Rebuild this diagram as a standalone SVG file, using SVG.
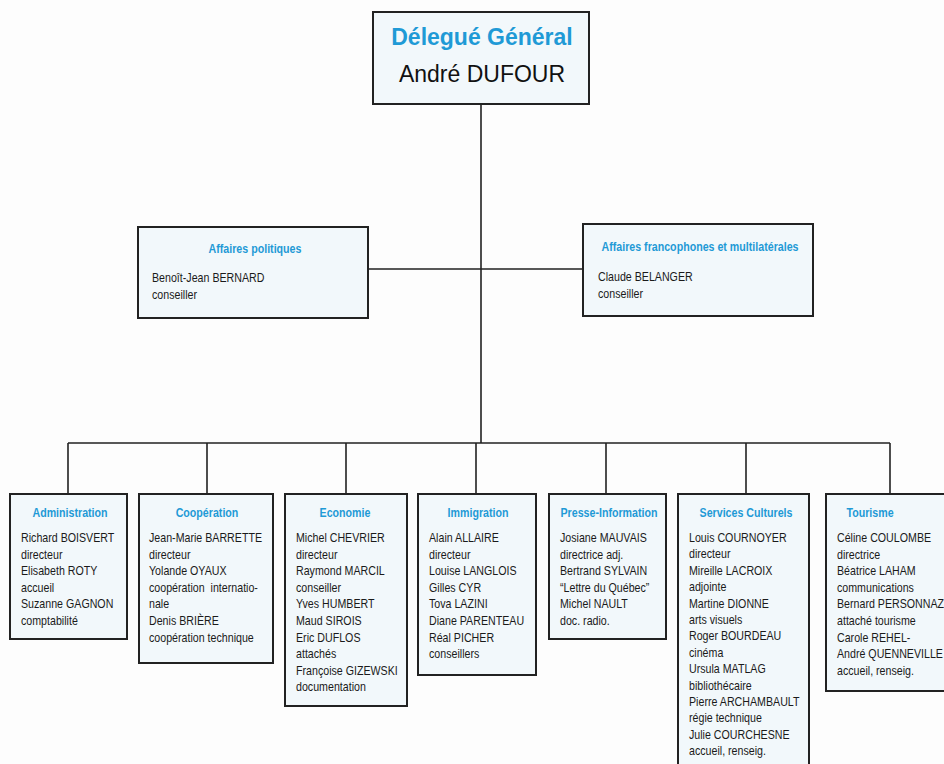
<svg xmlns="http://www.w3.org/2000/svg" width="944" height="764" viewBox="0 0 944 764">
<style>
.box{fill:#f2f8fb;stroke:#222;stroke-width:2}
.conn{fill:none;stroke:#222;stroke-width:1.6}
.t{font-family:"Liberation Sans",Arial,sans-serif;font-size:13px;fill:#1a1a1a}
.h{font-family:"Liberation Sans",Arial,sans-serif;font-size:13px;font-weight:bold;fill:#1f9ad6;text-anchor:middle}
.bigh{font-family:"Liberation Sans",Arial,sans-serif;font-size:23px;font-weight:bold;fill:#1f9ad6;text-anchor:middle}
.bign{font-family:"Liberation Sans",Arial,sans-serif;font-size:23px;fill:#111;text-anchor:middle}
</style>
<rect width="944" height="764" fill="#fdfdfd"/>
<g id="connectors">
<path class="conn" d="M481,104V443M368,269H583M68,443H890M68,443V494M207,443V494M346,443V494M476,443V494M606,443V494M746,443V494M890,443V494"/>
</g>
<g id="delegue">
<rect class="box" x="373" y="12" width="216" height="92"/>
<text class="bigh" x="482" y="45">Délegué Général</text>
<text class="bign" x="482" y="82">André DUFOUR</text>
</g>
<g id="affaires-politiques">
<rect class="box" x="138" y="227" width="230" height="91"/>
<text class="h" transform="matrix(.82 0 0 1 255 0)" x="0" y="253">Affaires politiques</text>
<g transform="matrix(.82 0 0 1 152 0)">
<text class="t" x="0" y="282">Benoît-Jean BERNARD</text>
<text class="t" x="0" y="299">conseiller</text>
</g>
</g>
<g id="affaires-francophones">
<rect class="box" x="583" y="224" width="230" height="92"/>
<text class="h" transform="matrix(.82 0 0 1 700 0)" x="0" y="251">Affaires francophones et multilatérales</text>
<g transform="matrix(.82 0 0 1 598 0)">
<text class="t" x="0" y="281">Claude BELANGER</text>
<text class="t" x="0" y="298">conseiller</text>
</g>
</g>
<g id="administration">
<rect class="box" x="10" y="494" width="117" height="145"/>
<text class="h" transform="matrix(.82 0 0 1 70 0)" x="0" y="517">Administration</text>
<g transform="matrix(.82 0 0 1 21 0)">
<text class="t" x="0" y="542">Richard BOISVERT</text>
<text class="t" x="0" y="558.6">directeur</text>
<text class="t" x="0" y="575.2">Elisabeth ROTY</text>
<text class="t" x="0" y="591.8">accueil</text>
<text class="t" x="0" y="608.4">Suzanne GAGNON</text>
<text class="t" x="0" y="625">comptabilité</text>
</g>
</g>
<g id="cooperation">
<rect class="box" x="139" y="494" width="134" height="169"/>
<text class="h" transform="matrix(.82 0 0 1 207 0)" x="0" y="517">Coopération</text>
<g transform="matrix(.82 0 0 1 149 0)">
<text class="t" x="0" y="542">Jean-Marie BARRETTE</text>
<text class="t" x="0" y="558.6">directeur</text>
<text class="t" x="0" y="575.2">Yolande OYAUX</text>
<text class="t" x="0" y="591.8" xml:space="preserve">coopération  internatio-</text>
<text class="t" x="0" y="608.4">nale</text>
<text class="t" x="0" y="625">Denis BRIÈRE</text>
<text class="t" x="0" y="641.6">coopération technique</text>
</g>
</g>
<g id="economie">
<rect class="box" x="285" y="494" width="122" height="212"/>
<text class="h" transform="matrix(.82 0 0 1 345 0)" x="0" y="517">Economie</text>
<g transform="matrix(.82 0 0 1 296 0)">
<text class="t" x="0" y="542">Michel CHEVRIER</text>
<text class="t" x="0" y="558.6">directeur</text>
<text class="t" x="0" y="575.2">Raymond MARCIL</text>
<text class="t" x="0" y="591.8">conseiller</text>
<text class="t" x="0" y="608.4">Yves HUMBERT</text>
<text class="t" x="0" y="625">Maud SIROIS</text>
<text class="t" x="0" y="641.6">Eric DUFLOS</text>
<text class="t" x="0" y="658.2">attachés</text>
<text class="t" x="0" y="674.8">Françoise GIZEWSKI</text>
<text class="t" x="0" y="691.4">documentation</text>
</g>
</g>
<g id="immigration">
<rect class="box" x="418" y="494" width="118" height="181"/>
<text class="h" transform="matrix(.82 0 0 1 478 0)" x="0" y="517">Immigration</text>
<g transform="matrix(.82 0 0 1 429 0)">
<text class="t" x="0" y="542">Alain ALLAIRE</text>
<text class="t" x="0" y="558.6">directeur</text>
<text class="t" x="0" y="575.2">Louise LANGLOIS</text>
<text class="t" x="0" y="591.8">Gilles CYR</text>
<text class="t" x="0" y="608.4">Tova LAZINI</text>
<text class="t" x="0" y="625">Diane PARENTEAU</text>
<text class="t" x="0" y="641.6">Réal PICHER</text>
<text class="t" x="0" y="658.2">conseillers</text>
</g>
</g>
<g id="presse-information">
<rect class="box" x="549" y="494" width="117" height="145"/>
<text class="h" transform="matrix(.82 0 0 1 609 0)" x="0" y="517">Presse-Information</text>
<g transform="matrix(.82 0 0 1 560 0)">
<text class="t" x="0" y="542">Josiane MAUVAIS</text>
<text class="t" x="0" y="558.6">directrice adj.</text>
<text class="t" x="0" y="575.2">Bertrand SYLVAIN</text>
<text class="t" x="0" y="591.8">“Lettre du Québec”</text>
<text class="t" x="0" y="608.4">Michel NAULT</text>
<text class="t" x="0" y="625">doc. radio.</text>
</g>
</g>
<g id="services-culturels">
<rect class="box" x="678" y="494" width="131" height="280"/>
<text class="h" transform="matrix(.82 0 0 1 746 0)" x="0" y="517">Services Culturels</text>
<g transform="matrix(.82 0 0 1 689 0)">
<text class="t" x="0" y="542">Louis COURNOYER</text>
<text class="t" x="0" y="558.4">directeur</text>
<text class="t" x="0" y="574.8">Mireille LACROIX</text>
<text class="t" x="0" y="591.2">adjointe</text>
<text class="t" x="0" y="607.6">Martine DIONNE</text>
<text class="t" x="0" y="624">arts visuels</text>
<text class="t" x="0" y="640.4">Roger BOURDEAU</text>
<text class="t" x="0" y="656.8">cinéma</text>
<text class="t" x="0" y="673.2">Ursula MATLAG</text>
<text class="t" x="0" y="689.6">bibliothécaire</text>
<text class="t" x="0" y="706">Pierre ARCHAMBAULT</text>
<text class="t" x="0" y="722.4">régie technique</text>
<text class="t" x="0" y="738.8">Julie COURCHESNE</text>
<text class="t" x="0" y="755.2">accueil, renseig.</text>
</g>
</g>
<g id="tourisme">
<rect class="box" x="826" y="494" width="130" height="197"/>
<text class="h" transform="matrix(.82 0 0 1 870 0)" x="0" y="517">Tourisme</text>
<g transform="matrix(.82 0 0 1 837 0)">
<text class="t" x="0" y="542">Céline COULOMBE</text>
<text class="t" x="0" y="558.6">directrice</text>
<text class="t" x="0" y="575.2">Béatrice LAHAM</text>
<text class="t" x="0" y="591.8">communications</text>
<text class="t" x="0" y="608.4">Bernard PERSONNAZ</text>
<text class="t" x="0" y="625">attaché tourisme</text>
<text class="t" x="0" y="641.6">Carole REHEL-</text>
<text class="t" x="0" y="658.2">André QUENNEVILLE</text>
<text class="t" x="0" y="674.8">accueil, renseig.</text>
</g>
</g>
</svg>
